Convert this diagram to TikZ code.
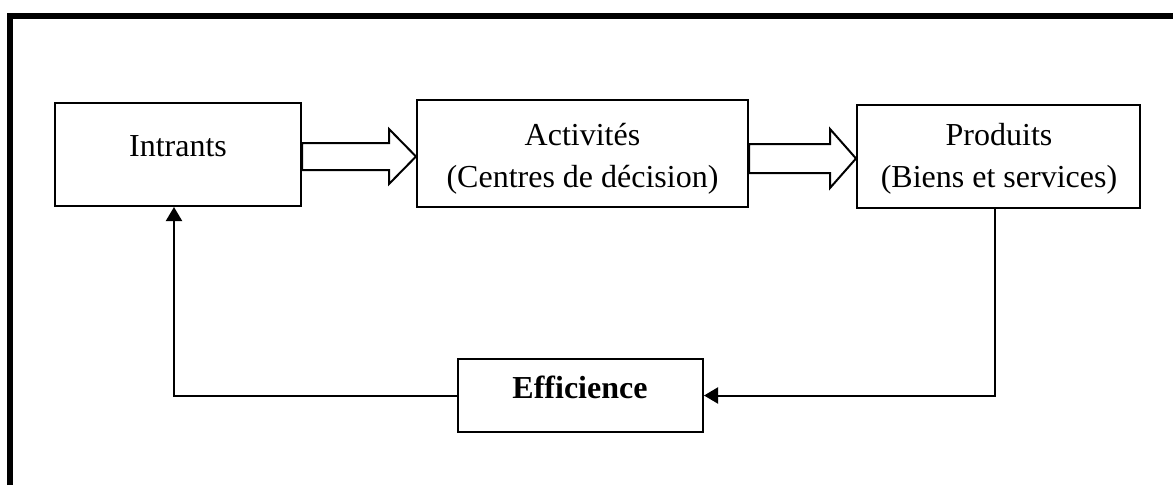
\documentclass[tikz,border=0pt]{standalone}
\usepackage{fontspec}
\setmainfont{Liberation Serif}
\usetikzlibrary{arrows.meta,calc}
\tikzset{
  box/.style={draw, line width=1.5pt, inner sep=0pt, fill=white},
  lbl/.style={inner sep=0pt, font=\fontsize{24pt}{30pt}\selectfont, anchor=base},
  conn/.style={line width=1.5pt, -{Triangle[length=10.5pt,width=12pt]}},
  barrow/.style={draw, line width=1.5pt, fill=white, line join=miter},
  frame/.style={line width=4.5pt, line join=miter}
}
\begin{document}
\begin{tikzpicture}[x=0.75pt,y=-0.75pt]
\useasboundingbox (0,0) rectangle (1173,485);
% frame
\draw[frame] (10,485) -- (10,16) -- (1173,16);
% boxes
\node[box, minimum width=184.5pt, minimum height=77.25pt] (intr) at (178,154.5) {};
\node[box, minimum width=248.25pt, minimum height=80.25pt] (act) at (582.5,153.5) {};
\node[box, minimum width=212.25pt, minimum height=77.25pt] (prod) at (998.5,156.5) {};
\node[box, minimum width=183.75pt, minimum height=54.75pt] (eff) at (580.5,395.5) {};
% labels
\node[lbl] (intrT) at (178,156) {Intrants};
\node[lbl] (actT1) at (582.5,145.5) {Activités};
\node[lbl] (actT2) at (582.5,187) {(Centres de décision)};
\node[lbl] (prodT1) at (999,145.5) {Produits};
\node[lbl] (prodT2) at (999,187) {(Biens et services)};
\node[lbl, font=\fontsize{24pt}{30pt}\selectfont\bfseries] (effT) at (580,398) {Efficience};
% block arrows
\draw[barrow] (intr.east |- 0,143) -- (389,143) -- (389,129) -- (act.west |- 0,156.5)
  -- (389,184) -- (389,170) -- (intr.east |- 0,170) -- cycle;
\draw[barrow] (act.east |- 0,144) -- (830,144) -- (830,129) -- (prod.west |- 0,158.5)
  -- (830,188) -- (830,173) -- (act.east |- 0,173) -- cycle;
% feedback connectors
\draw[conn] ([xshift=-2.6pt]prod.south) |- (eff.east);
\draw[conn] (eff.west) -| ([xshift=-3pt]intr.south);
\end{tikzpicture}
\end{document}
